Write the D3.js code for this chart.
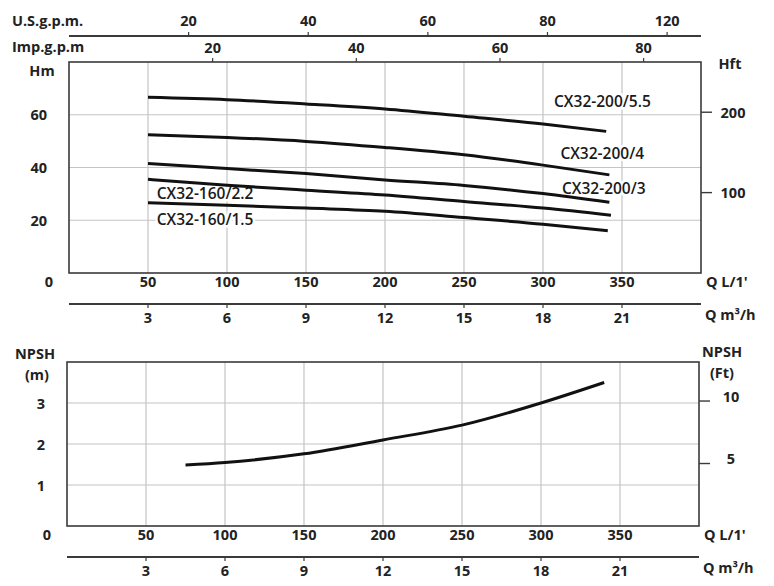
<!DOCTYPE html>
<html>
<head>
<meta charset="utf-8">
<script src="https://cdn.jsdelivr.net/npm/d3@7"></script>
<style>
	body { margin: 0; background: #fff; }
	text { font-family: "Open Sans", sans-serif; fill: #222; }
	.tick-label { font-size: 14.5px; font-weight: bold; }
	.curve-label { font-size: 15.5px; font-weight: 600; fill: #1a1a1a; }
</style>
</head>
<body>
<div id="chart"></div>
<script>
// flow axis ticks (L/min) and secondary flow units
var flowTicks = [50, 100, 150, 200, 250, 300, 350];
var m3hTicks = [3, 6, 9, 12, 15, 18, 21];
var usGpmTicks = [20, 40, 60, 80, 100];
var usGpmLabels = ["20", "40", "60", "80", "120"];
var impGpmTicks = [20, 40, 60, 80];

// head axis ticks
var headTicks = [20, 40, 60];
var headFtTicks = [100, 200];
var npshTicks = [1, 2, 3];
var npshFtTicks = [5, 10];

// pump curves, Q in L/min, H in m
var models = ["CX32-200/5.5", "CX32-200/4", "CX32-200/3", "CX32-160/2.2", "CX32-160/1.5"];
var curveQ = [
	[50, 100, 150, 200, 250, 300, 340],
	[50, 100, 150, 200, 250, 300, 342],
	[50, 100, 150, 200, 250, 300, 342],
	[50, 100, 150, 200, 250, 300, 343],
	[50, 100, 150, 200, 250, 300, 341]
];
var curveH = [
	[66.6, 65.7, 64.1, 62.2, 59.4, 56.5, 53.7],
	[52.4, 51.4, 49.9, 47.6, 44.8, 40.9, 37.2],
	[41.5, 39.6, 37.7, 35.3, 33.2, 30.1, 26.8],
	[35.5, 33.3, 31.4, 29.6, 27.1, 24.6, 21.9],
	[26.6, 25.7, 24.6, 23.4, 21.0, 18.5, 16.0]
];

// NPSH curve
var npshQ = [75, 100, 150, 200, 250, 300, 340];
var npshM = [1.49, 1.55, 1.76, 2.1, 2.46, 3.0, 3.5];

var US_GAL = 3.78541, IMP_GAL = 4.54609, M3H = 1000 / 60, FT = 0.3048;

var svg = d3.select("#chart").append("svg")
	.attr("width", 774)
	.attr("height", 586);

var line = d3.line()
	.x(function (d) { return d[0]; })
	.y(function (d) { return d[1]; })
	.curve(d3.curveMonotoneX);

/*
 * Draw one panel: frame, grid, flow axes and right-hand ft axis
 */
function drawPanel(p) {
	var x = d3.scaleLinear().domain([0, 400]).range([p.left, p.right]);
	var y = d3.scaleLinear().domain([0, p.yMax]).range([p.bottom, p.top]);
	var g = svg.append("g");

	// grid
	g.selectAll(".vgrid").data(flowTicks).enter().append("line")
		.attr("x1", function (d) { return x(d); }).attr("x2", function (d) { return x(d); })
		.attr("y1", p.top).attr("y2", p.bottom)
		.attr("stroke", "#c4c4c4").attr("stroke-width", 1.2);
	g.selectAll(".hgrid").data(p.yTicks).enter().append("line")
		.attr("x1", p.left).attr("x2", p.right)
		.attr("y1", function (d) { return y(d); }).attr("y2", function (d) { return y(d); })
		.attr("stroke", "#c4c4c4").attr("stroke-width", 1.2);

	// frame
	g.append("rect")
		.attr("x", p.left).attr("y", p.top)
		.attr("width", p.right - p.left).attr("height", p.bottom - p.top)
		.attr("fill", "none").attr("stroke", "#3a3a3a").attr("stroke-width", 1.6);

	// left y labels
	g.selectAll(".ylab").data(p.yTicks).enter().append("text")
		.attr("class", "tick-label")
		.attr("x", p.left - 22).attr("y", function (d) { return y(d); })
		.attr("text-anchor", "end").attr("dominant-baseline", "central")
		.text(function (d) { return d; });
	g.append("text").attr("class", "tick-label")
		.attr("x", p.left - 16).attr("y", p.bottom + 8)
		.attr("text-anchor", "end").attr("dominant-baseline", "central")
		.text("0");

	// right ft axis
	var yFt = function (ft) { return y(ft * FT); };
	g.selectAll(".ftick").data(p.ftTicks).enter().append("line")
		.attr("x1", p.right).attr("x2", p.right + 11)
		.attr("y1", yFt).attr("y2", yFt)
		.attr("stroke", "#3a3a3a").attr("stroke-width", 1.4);
	g.selectAll(".flab").data(p.ftTicks).enter().append("text")
		.attr("class", "tick-label")
		.attr("x", p.right + 32).attr("y", function (d) { return yFt(d) + p.ftShift; })
		.attr("text-anchor", "middle").attr("dominant-baseline", "central")
		.text(function (d) { return d; });

	// Q L/1' labels
	g.selectAll(".qlab").data(flowTicks).enter().append("text")
		.attr("class", "tick-label")
		.attr("x", function (d) { return x(d); }).attr("y", p.bottom + 8)
		.attr("text-anchor", "middle").attr("dominant-baseline", "central")
		.text(function (d) { return d; });
	g.append("text").attr("class", "tick-label")
		.attr("x", p.right + 5).attr("y", p.bottom + 8)
		.attr("dominant-baseline", "central").text("Q L/1'");

	// m3/h axis
	var axY = p.bottom + 31;
	g.append("line")
		.attr("x1", p.left).attr("x2", p.right).attr("y1", axY).attr("y2", axY)
		.attr("stroke", "#3a3a3a").attr("stroke-width", 1.8);
	g.selectAll(".mtick").data(m3hTicks).enter().append("line")
		.attr("x1", function (d) { return x(d * M3H); }).attr("x2", function (d) { return x(d * M3H); })
		.attr("y1", axY).attr("y2", axY + 4)
		.attr("stroke", "#3a3a3a").attr("stroke-width", 1.2);
	g.selectAll(".mlab").data(m3hTicks).enter().append("text")
		.attr("class", "tick-label")
		.attr("x", function (d) { return x(d * M3H); }).attr("y", axY + 13)
		.attr("text-anchor", "middle").attr("dominant-baseline", "central")
		.text(function (d) { return d; });
	g.append("text").attr("class", "tick-label")
		.attr("x", p.right + 4).attr("y", axY + 10)
		.attr("dominant-baseline", "central").text("Q m³/h");

	return { x: x, y: y, g: g };
}

// ---------- head panel ----------
var head = drawPanel({
	left: 69, right: 701, top: 62, bottom: 273, yMax: 80,
	yTicks: headTicks, ftTicks: headFtTicks, ftShift: 0
});

// top gpm axes
var usY = 36;
svg.append("line")
	.attr("x1", 69).attr("x2", 701).attr("y1", usY).attr("y2", usY)
	.attr("stroke", "#3a3a3a").attr("stroke-width", 1.8);
svg.selectAll(".ustick").data(usGpmTicks).enter().append("line")
	.attr("x1", function (d) { return head.x(d * US_GAL); })
	.attr("x2", function (d) { return head.x(d * US_GAL); })
	.attr("y1", usY - 4).attr("y2", usY)
	.attr("stroke", "#3a3a3a").attr("stroke-width", 1.2);
svg.selectAll(".uslab").data(usGpmTicks).enter().append("text")
	.attr("class", "tick-label")
	.attr("x", function (d) { return head.x(d * US_GAL); }).attr("y", 20)
	.attr("text-anchor", "middle").attr("dominant-baseline", "central")
	.text(function (d, i) { return usGpmLabels[i]; });
svg.selectAll(".imptick").data(impGpmTicks).enter().append("line")
	.attr("x1", function (d) { return head.x(d * IMP_GAL); })
	.attr("x2", function (d) { return head.x(d * IMP_GAL); })
	.attr("y1", 58).attr("y2", 62)
	.attr("stroke", "#3a3a3a").attr("stroke-width", 1.2);
svg.selectAll(".implab").data(impGpmTicks).enter().append("text")
	.attr("class", "tick-label")
	.attr("x", function (d) { return head.x(d * IMP_GAL); }).attr("y", 47)
	.attr("text-anchor", "middle").attr("dominant-baseline", "central")
	.text(function (d) { return d; });

var titles = [
	["U.S.g.p.m.", 12, 20, "start"],
	["Imp.g.p.m", 12, 46, "start"],
	["Hm", 42, 70, "middle"],
	["Hft", 730, 63, "middle"],
	["NPSH", 35, 353, "middle"],
	["(m)", 37, 374, "middle"],
	["NPSH", 722, 351, "middle"],
	["(Ft)", 722, 372, "middle"]
];
svg.selectAll(".title").data(titles).enter().append("text")
	.attr("class", "tick-label")
	.attr("x", function (d) { return d[1]; }).attr("y", function (d) { return d[2]; })
	.attr("text-anchor", function (d) { return d[3]; })
	.attr("dominant-baseline", "central")
	.text(function (d) { return d[0]; });

// curve labels (white halo hides grid behind them)
var labelAt = [[307, 65.3], [311, 45.6], [312, 32.3], [55.5, 30.4], [55.5, 20.4]];
head.g.selectAll(".curve-label").data(models).enter().append("text")
	.attr("class", "curve-label")
	.attr("x", function (d, i) { return head.x(labelAt[i][0]); })
	.attr("y", function (d, i) { return head.y(labelAt[i][1]); })
	.attr("dominant-baseline", "central")
	.attr("stroke", "#fff").attr("stroke-width", 5).attr("paint-order", "stroke")
	.text(function (d) { return d; });

head.g.selectAll(".curve").data(models).enter().append("path")
	.attr("fill", "none").attr("stroke", "#111").attr("stroke-width", 3)
	.attr("d", function (d, i) {
		return line(curveQ[i].map(function (q, j) { return [head.x(q), head.y(curveH[i][j])]; }));
	});

// ---------- NPSH panel ----------
var npsh = drawPanel({
	left: 67, right: 699, top: 362, bottom: 526, yMax: 4,
	yTicks: npshTicks, ftTicks: npshFtTicks, ftShift: -5
});

npsh.g.append("path")
	.attr("fill", "none").attr("stroke", "#111").attr("stroke-width", 3)
	.attr("d", line(npshQ.map(function (q, j) { return [npsh.x(q), npsh.y(npshM[j])]; })));
</script>
</body>
</html>
